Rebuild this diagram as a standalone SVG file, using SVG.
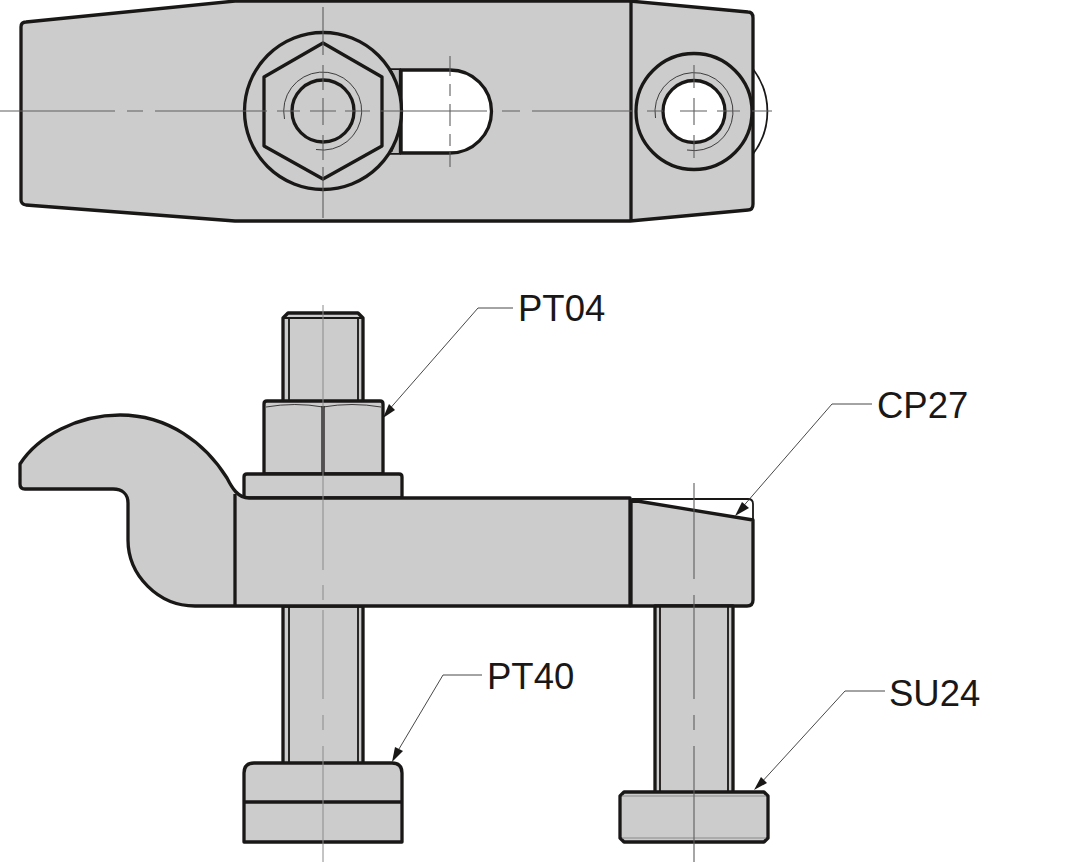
<svg xmlns="http://www.w3.org/2000/svg" width="1081" height="863" viewBox="0 0 1081 863">
<style>
.b{fill:#cccccc;stroke:#1a1717;stroke-width:3.300;stroke-linejoin:round}
.w{fill:#ffffff;stroke:#1a1717;stroke-width:3.300;stroke-linejoin:round}
.n{fill:none;stroke:#1a1717;stroke-width:3.300;stroke-linecap:butt}
.m{fill:none;stroke:#1a1717;stroke-width:1.800}
.t{fill:none;stroke:#1a1717;stroke-width:.8}
.g{fill:none;stroke:#8a8a8a;stroke-width:1}
.c{fill:none;stroke:#5e5e5e;stroke-width:1.100}
.l{fill:none;stroke:#333333;stroke-width:.9}
.a{fill:#1a1717;stroke:none}
text{font-family:"Liberation Sans",Arial,sans-serif;font-size:36.500px;fill:#1a1717}
</style>
<rect width="1081" height="863" fill="#ffffff"/>

<g id="top-view">
<path class="m" d="M753 69A70 70 0 0 1 753 154"/>
<path class="b" d="M21 27Q21 22 26 22L235 1H630L748 12Q753 12 753 18V204Q753 210 748 210L630 221H235L26 205Q21 204 21 200Z"/>
<path class="n" d="M631 1V221"/>
<path class="w" d="M401 70H450A41.500 41.500 0 0 1 450 153H401Z"/>
<path class="n" d="M390 70H401M390 153H401"/>
<path d="M390 70H400V153H390Z" fill="#bdbdbd" stroke="none"/>
<path class="t" d="M392 71L398 92V132L392 152" stroke="#777"/>
<path class="n" d="M400.500 70V153"/>
<circle class="b" cx="323" cy="111" r="78.500"/>
<path class="b" d="M323 43L382 77V146L323 179L264 146V77Z"/>
<circle class="n" cx="323" cy="111" r="31"/>
<path class="t" d="M284.500 119A39 39 0 1 1 316 149.500"/>
<circle class="b" cx="694" cy="111.500" r="58"/>
<circle class="w" cx="694" cy="111.500" r="31"/>
<path class="t" d="M655.500 118A39 39 0 1 1 687 150"/>
</g>

<g id="side-view-stud">
<path class="b" d="M283 402V318L288 313H358L363 318V402Z"/>
<path class="b" d="M283 606H363V764H283Z"/>
<path class="m" d="M289 318V402M358 318V402M283 318H363M289 606V763M358 606V763"/>
</g>

<g id="PT04-nut">
<path class="b" d="M264 474V404Q264 401 267 401H380Q383 401 383 404V474Z"/>
<path class="n" d="M323 406V474"/>
<path class="t" d="M266 407Q295 402 323 407Q352 402 381 407"/>
<path class="b" d="M244 498V477Q244 474 247 474H399Q402 474 402 477V498Z"/>
</g>

<g id="clamp-body">
<path class="b" d="M20 464C38 436 78 415 120 415C168 415 205 443 227 478C232 488 238 498 249 498H630V606H195C158 606 128 575 128 540V503C128 494 122 489 113 489H25Q20 489 20 484Z"/>
<path class="n" d="M235 494V606"/>
</g>

<g id="CP27-block">
<path class="m" d="M632 499H748Q753 499 753 504V521"/>
<path class="b" d="M631 500L753 520V600Q753 606 747 606H631Z"/>
</g>

<g id="PT40-foot">
<path class="b" d="M244 842V773Q244 763 254 763H392Q402 763 402 773V842Z"/>
<path class="n" d="M244 802H402"/>
</g>

<g id="SU24-foot">
<path class="b" d="M655 606H733V793H655Z"/>
<path class="m" d="M660 606V793M728 606V793"/>
<path class="b" d="M624 792H764L768 796V838L764 842H624L620 838V796Z"/>
<path class="g" d="M622 796H766M622 838H766"/>
</g>

<g id="connectors">
<path class="c" d="M0 111H115M127 111H143M155 111H267M277 111H300M310 111H336M345 111H370M380 111H487M502 111H520M532 111H632M647 111H663M680 111H707M717 111H740M752 111H772"/>
<path class="c" d="M323 7V55M323 65V90M323 98V125M323 135V160M323 167V218"/>
<path class="c" d="M450 56V76M450 84V96M450 104V126M450 134V146M450 152V167"/>
<path class="c" d="M694 65V88M694 98V125M694 135V158"/>
<path class="g" stroke-width="1.500" d="M323 305V570M323 585V600M323 610V699M323 715V730M323 746V862"/>
<path class="c" d="M694 483V579M694 595V610M694 610V699M694 715V730M694 746V862"/>
<path class="l" d="M513 308H478L387 412"/>
<path class="a" d="M383 418L389 404L395 410Z"/>
<path class="l" d="M872 404H832L740 510"/>
<path class="a" d="M735 516L742 502L749 508Z"/>
<path class="l" d="M482 675H443L396 754"/>
<path class="a" d="M392 762L395 747L403 751Z"/>
<path class="l" d="M885 691H845L760 784"/>
<path class="a" d="M754 790L761 777L767 783Z"/>
</g>

<g id="labels">
<text x="518" y="321">PT04</text>
<text x="877" y="418">CP27</text>
<text x="487" y="689">PT40</text>
<text x="889" y="706">SU24</text>
</g>
</svg>
